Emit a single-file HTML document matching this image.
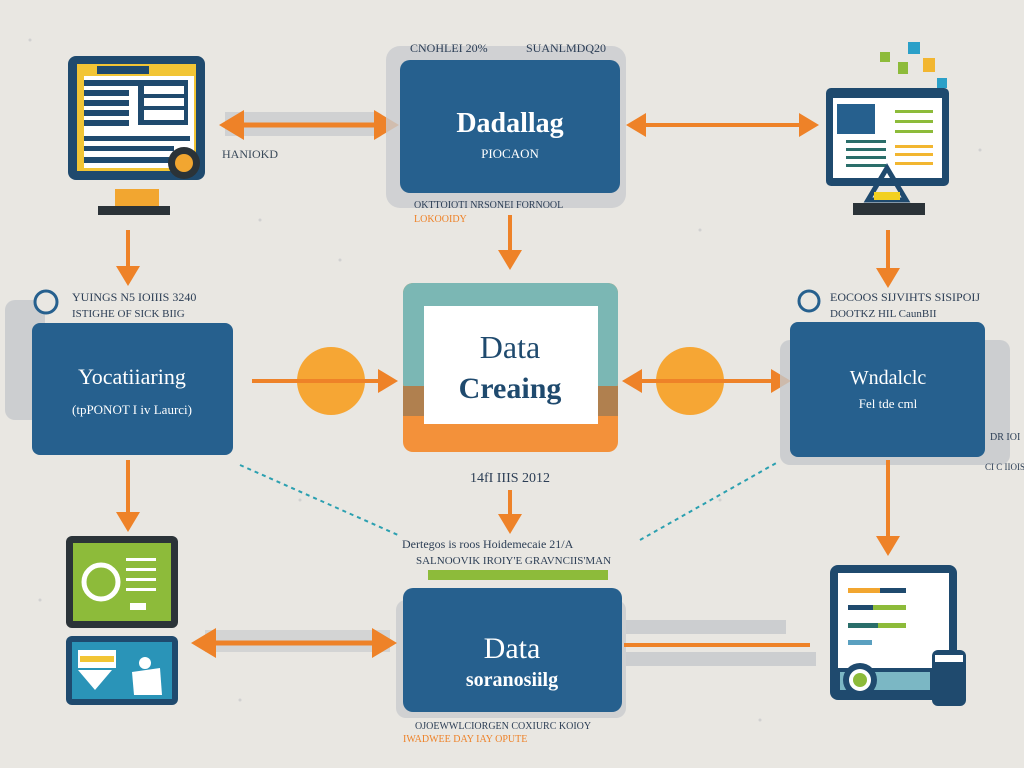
<!DOCTYPE html>
<html><head><meta charset="utf-8"><style>
html,body{margin:0;padding:0;background:#e8e6e1;}
svg{display:block}
text{font-family:"Liberation Serif",serif;}
</style></head><body>
<svg width="1024" height="768" viewBox="0 0 1024 768" xmlns="http://www.w3.org/2000/svg">
<defs>
<marker id="ah" markerWidth="6" markerHeight="8" refX="4" refY="4" orient="auto" markerUnits="strokeWidth"><path d="M0,1 L5,4 L0,7 Z" fill="#ee8228"/></marker>
<marker id="as" markerWidth="6" markerHeight="8" refX="1" refY="4" orient="auto" markerUnits="strokeWidth"><path d="M5,1 L0,4 L5,7 Z" fill="#ee8228"/></marker>
</defs>
<rect width="1024" height="768" fill="#e9e7e2"/>
<g fill="#b9bcc0" opacity="0.5">
<circle cx="30" cy="40" r="1.5"/><circle cx="260" cy="220" r="1.5"/><circle cx="340" cy="260" r="1.5"/><circle cx="700" cy="230" r="1.5"/><circle cx="980" cy="150" r="1.5"/><circle cx="300" cy="500" r="1.5"/><circle cx="720" cy="500" r="1.5"/><circle cx="240" cy="700" r="1.5"/><circle cx="760" cy="720" r="1.5"/><circle cx="40" cy="600" r="1.5"/>
</g>

<!-- Top-left monitor -->
<rect x="68" y="56" width="137" height="124" rx="8" fill="#1f4a6e"/>
<rect x="77" y="64" width="119" height="107" fill="#f2c535"/>
<rect x="84" y="76" width="110" height="92" fill="#fff"/>
<rect x="97" y="66" width="52" height="8" fill="#1f4a6e"/>
<g fill="#1f4a6e"><rect x="84" y="80" width="55" height="6"/><rect x="84" y="90" width="45" height="6"/><rect x="84" y="100" width="45" height="6"/><rect x="84" y="110" width="45" height="6"/><rect x="84" y="120" width="45" height="6"/><rect x="84" y="136" width="106" height="5"/><rect x="84" y="146" width="90" height="5"/><rect x="84" y="157" width="85" height="6"/></g>
<rect x="138" y="80" width="50" height="45" fill="#1f4a6e"/>
<rect x="144" y="86" width="40" height="8" fill="#fff"/><rect x="144" y="98" width="40" height="8" fill="#fff"/><rect x="144" y="110" width="40" height="10" fill="#fff"/>
<circle cx="184" cy="163" r="16" fill="#2b3338"/><circle cx="184" cy="163" r="9" fill="#f2a630"/>
<rect x="115" y="189" width="44" height="17" fill="#f2a630"/>
<rect x="98" y="206" width="72" height="9" fill="#2b3338"/>
<text x="222" y="158" font-size="12" fill="#3a4a5a">HANIOKD</text>

<!-- arrows top -->
<rect x="225" y="112" width="150" height="24" fill="#c4c8cc" opacity="0.7"/>
<line x1="224" y1="125" x2="394" y2="125" stroke="#ee8228" stroke-width="5" marker-end="url(#ah)" marker-start="url(#as)"/>
<line x1="630" y1="125" x2="815" y2="125" stroke="#ee8228" stroke-width="4" marker-end="url(#ah)" marker-start="url(#as)"/>

<!-- Top center box -->
<rect x="386" y="46" width="240" height="162" rx="14" fill="#c9ccd0" opacity="0.8"/>
<rect x="400" y="60" width="220" height="133" rx="10" fill="#26608e"/>
<text x="510" y="132" font-size="28" font-weight="bold" fill="#fff" text-anchor="middle">Dadallag</text>
<text x="510" y="158" font-size="13" fill="#fff" text-anchor="middle">PIOCAON</text>
<text x="410" y="52" font-size="12" fill="#2c3e55">CNOHLEI 20%</text>
<text x="526" y="52" font-size="12" fill="#2c3e55">SUANLMDQ20</text>
<text x="414" y="208" font-size="10" fill="#2c3e55">OKTTOIOTI NRSONEI FORNOOL</text>
<text x="414" y="222" font-size="10" fill="#ee8228">LOKOOIDY</text>
<line x1="510" y1="215" x2="510" y2="266" stroke="#ee8228" stroke-width="4" marker-end="url(#ah)"/>

<!-- Top-right monitor -->
<rect x="880" y="52" width="10" height="10" fill="#8dbb3a"/><rect x="908" y="42" width="12" height="12" fill="#2ba0c8"/><rect x="898" y="62" width="10" height="12" fill="#8dbb3a"/><rect x="923" y="58" width="12" height="14" fill="#f2b630"/><rect x="937" y="78" width="10" height="10" fill="#2ba0c8"/>
<rect x="826" y="88" width="123" height="98" rx="5" fill="#1f4a6e"/>
<rect x="833" y="98" width="109" height="80" fill="#fff"/>
<rect x="837" y="104" width="38" height="30" fill="#26608e"/>
<g fill="#8dbb3a"><rect x="895" y="110" width="38" height="3"/><rect x="895" y="120" width="38" height="3"/><rect x="895" y="130" width="38" height="3"/></g>
<g fill="#2a6e6a"><rect x="846" y="140" width="40" height="3"/><rect x="846" y="148" width="40" height="3"/><rect x="846" y="156" width="40" height="3"/><rect x="846" y="164" width="40" height="3"/></g>
<g fill="#f2b630"><rect x="895" y="145" width="38" height="3"/><rect x="895" y="153" width="38" height="3"/><rect x="895" y="162" width="38" height="3"/></g>
<path d="M887,168 L868,200 L906,200 Z" fill="none" stroke="#1f4a6e" stroke-width="5"/>
<rect x="874" y="192" width="26" height="8" fill="#f2d020"/>
<rect x="853" y="203" width="72" height="12" fill="#2b3338"/>

<line x1="128" y1="230" x2="128" y2="282" stroke="#ee8228" stroke-width="4" marker-end="url(#ah)"/>
<line x1="888" y1="230" x2="888" y2="284" stroke="#ee8228" stroke-width="4" marker-end="url(#ah)"/>

<!-- Left middle box -->
<rect x="5" y="300" width="40" height="120" rx="10" fill="#c4c8cc" opacity="0.8"/>
<circle cx="46" cy="302" r="11" fill="#e9e7e2" stroke="#26608e" stroke-width="3"/>
<text x="72" y="301" font-size="12" fill="#2c3e55">YUINGS N5 IOIIIS 3240</text>
<text x="72" y="317" font-size="11" fill="#2c3e55">ISTIGHE OF SICK BIIG</text>
<rect x="32" y="323" width="201" height="132" rx="8" fill="#26608e"/>
<text x="132" y="384" font-size="22" fill="#fff" text-anchor="middle">Yocatiiaring</text>
<text x="132" y="414" font-size="13" fill="#fff" text-anchor="middle">(tpPONOT I iv Laurci)</text>

<!-- mid arrows + circles -->
<circle cx="331" cy="381" r="34" fill="#f6a634"/>
<line x1="252" y1="381" x2="394" y2="381" stroke="#ee8228" stroke-width="4" marker-end="url(#ah)"/>
<circle cx="690" cy="381" r="34" fill="#f6a634"/>
<line x1="626" y1="381" x2="787" y2="381" stroke="#ee8228" stroke-width="4" marker-end="url(#ah)" marker-start="url(#as)"/>

<!-- Center box -->
<rect x="403" y="283" width="215" height="169" rx="10" fill="#f3913a"/>
<rect x="403" y="283" width="215" height="110" rx="10" fill="#7bb7b4"/>
<rect x="403" y="386" width="215" height="30" fill="#b0804f"/>
<rect x="424" y="306" width="174" height="118" fill="#fff"/>
<text x="510" y="358" font-size="32" fill="#1f4a6e" text-anchor="middle">Data</text>
<text x="510" y="398" font-size="30" font-weight="bold" fill="#1f4a6e" text-anchor="middle">Creaing</text>
<text x="510" y="482" font-size="14" fill="#2c3e55" text-anchor="middle">14fI IIIS 2012</text>
<line x1="510" y1="490" x2="510" y2="530" stroke="#ee8228" stroke-width="4" marker-end="url(#ah)"/>

<!-- Right middle box -->
<rect x="780" y="340" width="230" height="125" rx="10" fill="#c4c8cc" opacity="0.8"/>
<circle cx="809" cy="301" r="10" fill="#e9e7e2" stroke="#26608e" stroke-width="3"/>
<text x="830" y="301" font-size="12" fill="#2c3e55">EOCOOS SIJVIHTS SISIPOIJ</text>
<text x="830" y="317" font-size="11" fill="#2c3e55">DOOTKZ HIL CaunBII</text>
<rect x="790" y="322" width="195" height="135" rx="8" fill="#26608e"/>
<text x="888" y="384" font-size="20" fill="#fff" text-anchor="middle">Wndalclc</text>
<text x="888" y="408" font-size="13" fill="#fff" text-anchor="middle">Fel tde cml</text>
<text x="990" y="440" font-size="10" fill="#2c3e55">DR IOI</text>
<text x="985" y="470" font-size="9" fill="#2c3e55">CI C IIOIS</text>

<line x1="128" y1="460" x2="128" y2="528" stroke="#ee8228" stroke-width="4" marker-end="url(#ah)"/>
<line x1="888" y1="460" x2="888" y2="552" stroke="#ee8228" stroke-width="4" marker-end="url(#ah)"/>
<line x1="240" y1="465" x2="398" y2="535" stroke="#2ba0b0" stroke-width="2" stroke-dasharray="4,4"/>
<line x1="640" y1="540" x2="778" y2="462" stroke="#2ba0b0" stroke-width="2" stroke-dasharray="4,4"/>

<!-- Bottom center -->
<text x="402" y="548" font-size="12" fill="#2c3e55">Dertegos is roos  Hoidemecaie 21/A</text>
<text x="416" y="564" font-size="11" fill="#2c3e55">SALNOOVIK IROIY'E GRAVNCIIS'MAN</text>
<rect x="428" y="570" width="180" height="10" fill="#8dbb3a"/>
<rect x="396" y="600" width="230" height="118" rx="10" fill="#c4c8cc" opacity="0.7"/>
<rect x="403" y="588" width="219" height="124" rx="10" fill="#26608e"/>
<text x="512" y="658" font-size="30" fill="#fff" text-anchor="middle" font-family="Liberation Sans, sans-serif">Data</text>
<text x="512" y="686" font-size="20" font-weight="bold" fill="#fff" text-anchor="middle" font-family="Liberation Sans, sans-serif">soranosiilg</text>
<text x="415" y="729" font-size="10" fill="#2c3e55">OJOEWWLCIORGEN COXIURC KOIOY</text>
<text x="403" y="742" font-size="10" fill="#ee8228">IWADWEE DAY IAY OPUTE</text>

<rect x="205" y="630" width="185" height="22" fill="#c4c8cc" opacity="0.6"/>
<line x1="196" y1="643" x2="392" y2="643" stroke="#ee8228" stroke-width="5" marker-end="url(#ah)" marker-start="url(#as)"/>
<rect x="626" y="620" width="160" height="14" fill="#c4c8cc" opacity="0.8"/>
<rect x="626" y="652" width="190" height="14" fill="#c4c8cc" opacity="0.8"/>
<line x1="624" y1="645" x2="810" y2="645" stroke="#ee8228" stroke-width="4"/>

<!-- bottom-left icons -->
<rect x="66" y="536" width="112" height="92" rx="6" fill="#2b3338"/>
<rect x="73" y="543" width="98" height="78" fill="#8dbb3a"/>
<circle cx="101" cy="582" r="17" fill="none" stroke="#fff" stroke-width="5"/>
<g fill="#fff"><rect x="126" y="558" width="30" height="3"/><rect x="126" y="568" width="30" height="3"/><rect x="126" y="578" width="30" height="3"/><rect x="126" y="588" width="30" height="3"/><rect x="130" y="603" width="16" height="7"/></g>
<rect x="66" y="636" width="112" height="69" rx="6" fill="#1f4a6e"/>
<rect x="72" y="642" width="100" height="57" fill="#2a94b8"/>
<rect x="78" y="650" width="38" height="18" fill="#fff"/><rect x="80" y="656" width="34" height="6" fill="#f2c535"/>
<path d="M78,670 L112,670 L95,690 Z" fill="#fff"/><circle cx="145" cy="663" r="6" fill="#fff"/><path d="M132,672 L160,668 L162,695 L134,695 Z" fill="#fff"/>

<!-- bottom-right document -->
<rect x="830" y="565" width="127" height="135" rx="8" fill="#1f4a6e"/>
<rect x="838" y="573" width="111" height="95" fill="#fff"/>
<rect x="848" y="588" width="32" height="5" fill="#f2a630"/><rect x="880" y="588" width="26" height="5" fill="#1f4a6e"/>
<rect x="848" y="605" width="25" height="5" fill="#1f4a6e"/><rect x="873" y="605" width="33" height="5" fill="#8dbb3a"/>
<rect x="848" y="623" width="30" height="5" fill="#2a6e6a"/><rect x="878" y="623" width="28" height="5" fill="#8dbb3a"/>
<rect x="848" y="640" width="24" height="5" fill="#5aa0c0"/>
<rect x="840" y="672" width="90" height="18" fill="#7bb7c4"/>
<circle cx="860" cy="680" r="17" fill="#1f4a6e"/><circle cx="860" cy="680" r="11" fill="#fff"/><circle cx="860" cy="680" r="7" fill="#8dbb3a"/>
<rect x="932" y="650" width="34" height="56" rx="6" fill="#1f4a6e"/>
<rect x="935" y="655" width="28" height="7" fill="#fff"/>
</svg>
</body></html>
